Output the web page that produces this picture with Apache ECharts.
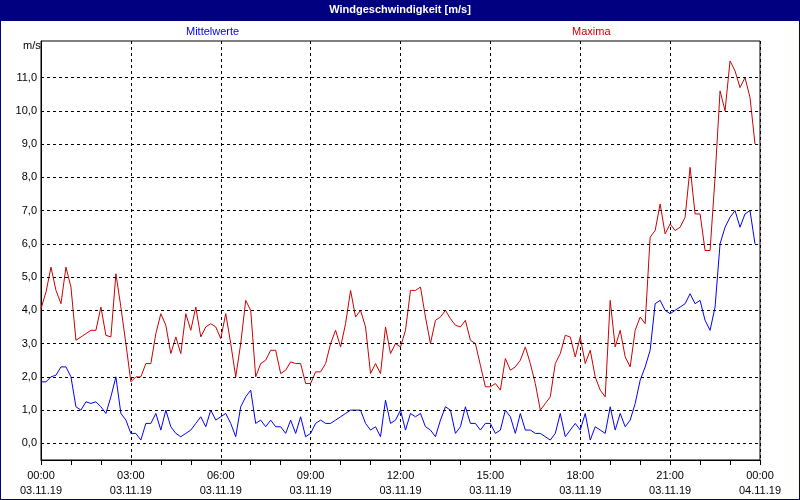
<!DOCTYPE html>
<html><head><meta charset="utf-8">
<script src="https://cdn.jsdelivr.net/npm/echarts@6/dist/echarts.min.js"></script>
<style>html,body{margin:0;padding:0;background:#fff}#c{width:800px;height:500px;box-sizing:border-box;border:1px solid #000080}</style>
</head><body><div id="c"></div>
<script>
const yTicks = [0,1,2,3,4,5,6,7,8,9,10,11];
const xTicks = [0,3,6,9,12,15,18,21,24];
const xTickLabels = ["00:00\n03.11.19","03:00\n03.11.19","06:00\n03.11.19","09:00\n03.11.19","12:00\n03.11.19","15:00\n03.11.19","18:00\n03.11.19","21:00\n03.11.19","00:00\n04.11.19"];
const maxima = [4.05,4.55,5.3,4.6,4.2,5.3,4.7,3.1,3.2,3.3,3.4,3.4,4.1,3.25,3.2,5.1,4.1,3.0,1.85,2.0,2.0,2.4,2.4,3.3,3.9,3.55,2.7,3.2,2.7,3.9,3.4,4.1,3.2,3.5,3.6,3.5,3.15,3.9,3.0,2.0,3.0,4.3,4.0,2.0,2.4,2.5,2.8,2.8,2.1,2.2,2.45,2.4,2.4,1.8,1.8,2.15,2.15,2.4,3.0,3.4,2.9,3.6,4.6,3.8,4.0,3.5,2.1,2.4,2.1,3.5,2.7,3.0,2.9,
3.4,4.6,4.6,4.7,3.8,3.0,3.7,3.8,4.0,3.75,3.55,3.5,3.7,3.1,3.0,2.35,1.7,1.7,1.8,1.6,2.55,2.2,2.3,2.5,2.9,2.4,1.8,1.0,1.2,1.4,2.4,2.7,3.25,3.2,2.6,3.2,2.4,2.8,2.0,1.6,1.4,4.3,2.9,3.4,2.6,2.3,3.4,3.8,3.6,6.2,6.4,7.2,6.3,6.6,6.4,6.5,6.8,8.3,6.9,6.9,5.8,5.8,8.0,10.6,10.0,11.5,11.2,10.7,11.0,10.4,9.0];
const mittel = [1.85,1.85,2.0,2.05,2.3,2.3,2.0,1.1,1.0,1.25,1.2,1.25,1.1,0.9,1.4,2.0,0.9,0.7,0.3,0.3,0.1,0.6,0.6,0.9,0.4,1.0,0.5,0.3,0.2,0.3,0.4,0.6,0.8,0.5,1.0,0.7,0.8,0.9,0.6,0.2,1.1,1.4,1.6,0.6,0.7,0.5,0.7,0.5,0.5,0.3,0.7,0.3,0.8,0.2,0.3,0.6,0.7,0.6,0.6,0.7,0.8,0.9,1.0,1.0,1.0,0.6,0.4,0.5,0.2,1.3,0.6,0.7,1.0,
0.4,0.9,0.8,0.9,0.5,0.4,0.2,0.7,1.1,1.0,0.3,0.5,1.1,0.6,0.6,0.4,0.6,0.6,0.3,0.4,1.0,0.8,0.3,0.9,0.4,0.4,0.3,0.3,0.2,0.1,0.3,0.9,0.2,0.4,0.6,0.4,0.9,0.1,0.5,0.4,0.3,1.1,0.4,0.9,0.5,0.7,1.2,1.9,2.3,2.8,4.2,4.3,4.0,3.9,4.0,4.1,4.2,4.5,4.2,4.3,3.7,3.4,4.1,6.0,6.5,6.8,7.0,6.5,6.9,7.0,6.0];
const toPts = a => a.map((v,i)=>[i/6, v]);
const font = 'Liberation Sans';
const chart = echarts.init(document.getElementById('c'));
chart.setOption({
  animation:false,
  textStyle:{fontFamily:font},
  graphic:[
    {type:'rect',shape:{x:0,y:0,width:800,height:20},style:{fill:'#000080'}},
    {type:'text',left:'center',top:3,style:{text:'Windgeschwindigkeit [m/s]',fill:'#fff',font:'bold 11px '+font}},
    {type:'text',left:185,top:25,style:{text:'Mittelwerte',fill:'#0000ff',font:'11px '+font}},
    {type:'text',left:571,top:25,style:{text:'Maxima',fill:'#cc0000',font:'11px '+font}},
    {type:'text',left:22,top:39,style:{text:'m/s',fill:'#000',font:'11px '+font}}
  ],
  grid:{left:40,right:39,top:40,bottom:39,show:true,borderColor:'#000',borderWidth:1},
  xAxis:{type:'value',min:0,max:24,interval:3,
    axisLine:{onZero:false,lineStyle:{color:'#000'}},
    axisTick:{length:5,lineStyle:{color:'#000'}},
    minorTick:{show:true,splitNumber:3,length:5,lineStyle:{color:'#000'}},
    axisLabel:{color:'#000',fontSize:11,lineHeight:15,margin:8,formatter:v=>xTickLabels[xTicks.indexOf(v)]||''},
    splitLine:{show:true,lineStyle:{color:'#000',type:[3,3]}}},
  yAxis:{type:'value',min:-0.5,max:12.1,
    axisLine:{show:true,onZero:false,lineStyle:{color:'#000'}},
    axisTick:{show:false},
    splitLine:{show:false},
    axisLabel:{color:'#000',fontSize:11,margin:4,customValues:yTicks,formatter:v=>v.toFixed(1).replace('.',',')}},
  series:[
    {type:'line',data:toPts(maxima),showSymbol:false,lineStyle:{color:'#cc0000',width:1},
     markLine:{silent:true,symbol:'none',label:{show:false},lineStyle:{color:'#000',type:[3,3],width:1},data:yTicks.map(v=>({yAxis:v}))}},
    {type:'line',data:toPts(mittel),showSymbol:false,lineStyle:{color:'#0000ff',width:1}}
  ]
});
</script></body></html>
